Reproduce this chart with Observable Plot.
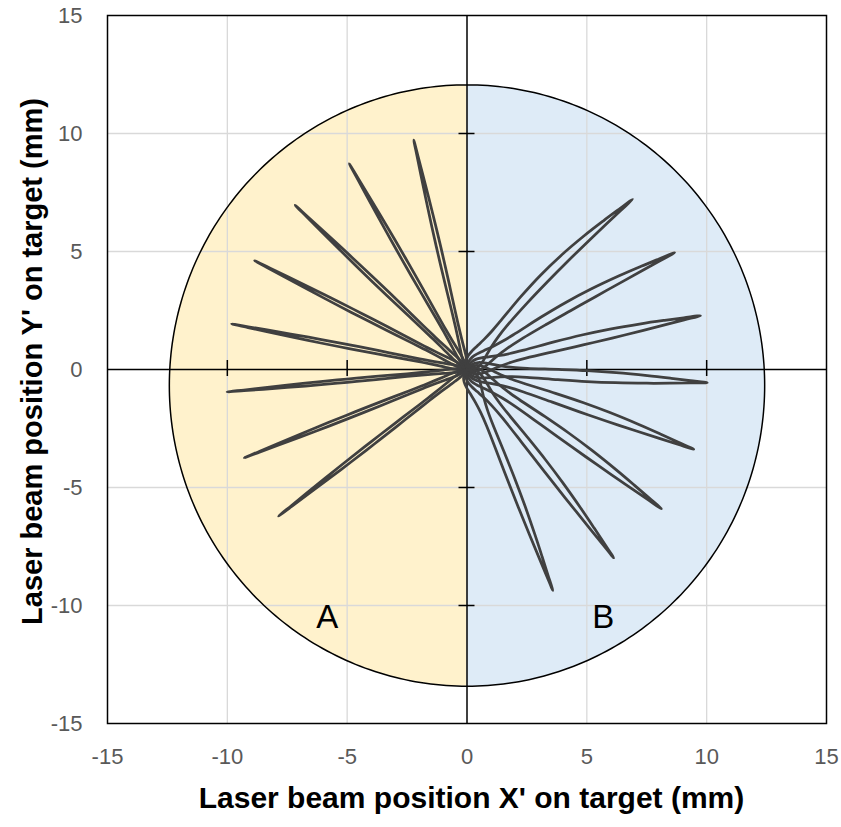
<!DOCTYPE html>
<html><head><meta charset="utf-8">
<script src="https://cdn.jsdelivr.net/npm/d3@7"></script>
<script src="https://cdn.jsdelivr.net/npm/@observablehq/plot@0.6"></script>
<style>body{margin:0;background:#fff} svg{display:block}</style>
</head><body><div id="chart"></div>
<script>
// ---- data ----
const axisTicks = [-15, -10, -5, 0, 5, 10, 15];
const gridTicks = [-10, -5, 5, 10];
const xTitle = "Laser beam position X' on target (mm)";
const yTitle = "Laser beam position Y' on target (mm)";
const regionLabels = ["A", "B"];
const regionLabelX = [-5.83, 5.69];
const regionLabelY = [-10.5, -10.5];

// target circle (centre, radii in mm)
const circleCenterY = -0.68;
const circleRadiusX = 12.42;
const circleRadiusY = 12.74;

// loop tips, widths, bends and spread at the hub (mm)
const leftTipX = [-2.22, -4.91, -7.17, -8.86, -9.82, -10.01, -9.29, -7.86];
const leftTipY = [9.72, 8.72, 6.96, 4.61, 1.93, -0.95, -3.74, -6.21];
const leftHalfWidth = [0.09, 0.08, 0.08, 0.08, 0.08, 0.07, 0.08, 0.08];
const leftBow = [0, 0, 0, 0, 0, 0, 0, 0];
const leftHubSpread = 0.07;
const rightTipX = [6.91, 8.66, 9.74, 10.02, 9.46, 8.11, 6.12, 3.58];
const rightTipY = [7.21, 4.95, 2.28, -0.56, -3.38, -5.90, -7.98, -9.36];
const rightHalfWidth = [0.2, 0.2, 0.21, 0.23, 0.21, 0.2, 0.17, 0.15];
const rightBow = [0.35, 0.22, 0.12, 0, 0.1, 0.12, 0.1, 0.06];
const rightHubSpread = 0.29;

const yellow = "#FFF2CC", blue = "#DEEBF7";

// ---- build shapes ----
const circleRows = d3.range(0, 201).map(i => {
  const t = -Math.PI / 2 + Math.PI * i / 200;
  const y = circleCenterY + circleRadiusY * Math.sin(t);
  const w = circleRadiusX * Math.cos(t);
  return {y, xl: -Math.max(0, w), xr: Math.max(0, w)};
});
const circleOutline = d3.range(0, 361).map(i => {
  const t = 2 * Math.PI * i / 360;
  return {x: circleRadiusX * Math.cos(t), y: circleCenterY + circleRadiusY * Math.sin(t)};
});

const fracSteps = [0.25, 0.38, 0.5, 0.62, 0.75, 0.85, 0.93, 1];
const hubSteps = [0, 0.1, 0.25, 0.45, 0.7, 1.0, 1.4, 1.9];
const loops = [];
function addLoop(id, tx, ty, hw, bow, hub) {
  const L = Math.hypot(tx, ty), ux = tx / L, uy = ty / L, nx = -uy, ny = ux;
  const steps = hubSteps.map(d => d / L).filter(s => s < 0.22).concat(fracSteps);
  const bump = d => (d / 0.5) * Math.exp(1 - d / 0.5);
  const pt = (s, sign) => {
    const o = bow * Math.sin(Math.PI * s) + sign * (hw * Math.sin(Math.PI * s) + hub * bump(s * L));
    return {id, x: s * tx + nx * o, y: s * ty + ny * o};
  };
  const A = steps.map(s => pt(s, 1));
  const B = steps.slice(0, -1).reverse().map(s => pt(s, -1));
  loops.push(...A, ...B);
}
leftTipX.forEach((x, i) => addLoop("L" + i, x, leftTipY[i], leftHalfWidth[i], leftBow[i], leftHubSpread));
rightTipX.forEach((x, i) => addLoop("R" + i, x, rightTipY[i], rightHalfWidth[i], rightBow[i], rightHubSpread));

const font = "'Liberation Sans', Arial, sans-serif";

const chart = Plot.plot({
  width: 841, height: 827,
  marginLeft: 107, marginRight: 15, marginTop: 15, marginBottom: 104,
  x: {domain: [-15, 15]},
  y: {domain: [-15, 15]},
  style: {fontFamily: font, background: "#fff", overflow: "visible"},
  marks: [
    Plot.areaX(circleRows, {y: "y", x1: 0, x2: "xl", fill: yellow}),
    Plot.areaX(circleRows, {y: "y", x1: 0, x2: "xr", fill: blue}),
    Plot.gridX(gridTicks, {stroke: "#d9d9d9", strokeOpacity: 1, strokeWidth: 1.3}),
    Plot.gridY(gridTicks, {stroke: "#d9d9d9", strokeOpacity: 1, strokeWidth: 1.3}),
    Plot.line(circleOutline, {x: "x", y: "y", stroke: "#000", strokeWidth: 1.5}),
    Plot.ruleX([0], {stroke: "#000", strokeWidth: 1.5}),
    Plot.ruleY([0], {stroke: "#000", strokeWidth: 1.5}),
    Plot.ruleX(gridTicks, {x: d => d, y1: 0, y2: 0, insetTop: -9, insetBottom: -7, stroke: "#000", strokeWidth: 1.5}),
    Plot.ruleY(gridTicks, {y: d => d, x1: 0, x2: 0, insetLeft: -8, insetRight: -8, stroke: "#000", strokeWidth: 1.5}),
    Plot.line(loops, {x: "x", y: "y", z: "id", curve: "catmull-rom", stroke: "#404040", strokeWidth: 2.75, strokeLinejoin: "round"}),
    Plot.frame({stroke: "#000", strokeWidth: 1.5}),
    Plot.axisX(axisTicks, {tickSize: 0, tickPadding: 25, fontSize: 22, color: "#595959", label: null, tickFormat: d => String(d)}),
    Plot.axisY(axisTicks, {tickSize: 0, tickPadding: 25, fontSize: 22, color: "#595959", label: null, tickFormat: d => String(d)}),
    Plot.text([xTitle], {frameAnchor: "bottom", dy: 84, dx: 4.5, fontSize: 30, fontWeight: "bold", fill: "#000"}),
    Plot.text([yTitle], {frameAnchor: "left", textAnchor: "middle", dx: -75, dy: -8, rotate: -90, fontSize: 29, fontWeight: "bold", fill: "#000"}),
    Plot.text(regionLabels, {x: (d, i) => regionLabelX[i], y: (d, i) => regionLabelY[i], text: d => d, fontSize: 33, fill: "#000"})
  ]
});
document.getElementById("chart").appendChild(chart);
</script></body></html>
